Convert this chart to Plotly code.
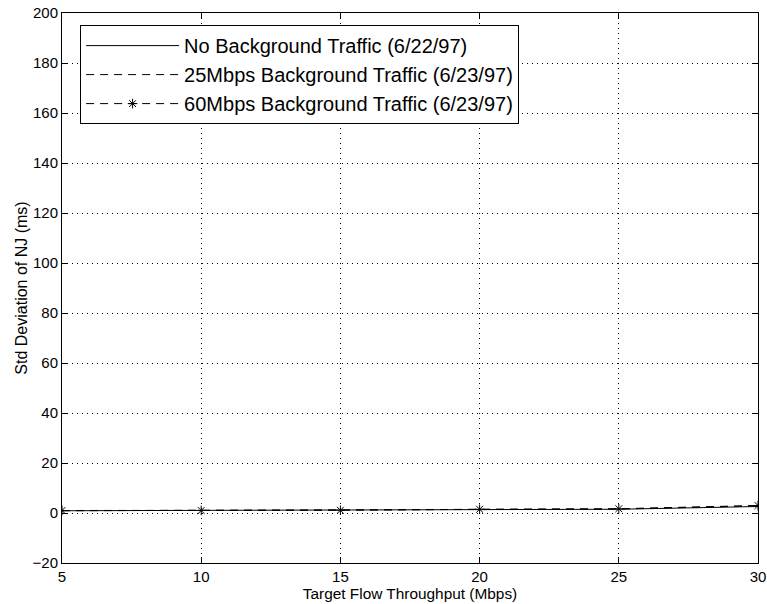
import plotly.graph_objects as go

throughput = [5, 10, 15, 20, 25, 30]
no_bg = [0.9, 1.0, 1.0, 1.3, 1.5, 2.6]
bg_25 = [0.9, 1.0, 1.1, 1.4, 1.6, 2.9]
bg_60 = [1.0, 1.0, 1.1, 1.5, 1.7, 3.0]

names = ["No Background Traffic (6/22/97)",
         "25Mbps Background Traffic (6/23/97)",
         "60Mbps Background Traffic (6/23/97)"]

x_ticks = [5, 10, 15, 20, 25, 30]
y_ticks = [-20, 0, 20, 40, 60, 80, 100, 120, 140, 160, 180, 200]

FONT = "Liberation Sans, Arial, Helvetica, sans-serif"

fig = go.Figure()
fig.add_trace(go.Scatter(x=throughput, y=no_bg, name=names[0], mode="lines",
                         line=dict(color="black", width=1, dash="solid")))
fig.add_trace(go.Scatter(x=throughput, y=bg_25, name=names[1], mode="lines",
                         line=dict(color="black", width=1, dash="8px,6px")))
fig.add_trace(go.Scatter(x=throughput, y=bg_60, name=names[2], mode="lines+markers",
                         line=dict(color="black", width=1, dash="8px,6px"),
                         marker=dict(symbol="asterisk-open", size=8,
                                     line=dict(color="black", width=1))))

axis_common = dict(showline=True, linecolor="black", linewidth=1, mirror="ticks",
                   ticks="inside", ticklen=6, tickcolor="black", automargin=False,
                   showgrid=True, gridcolor="black", gridwidth=1, griddash="1px,4px",
                   zeroline=False, tickfont=dict(family=FONT, size=15, color="black"))

fig.update_xaxes(range=[5, 30], tickvals=x_ticks,
                 title=dict(text="Target Flow Throughput (Mbps)", standoff=0,
                            font=dict(family=FONT, size=15.4, color="black")),
                 **axis_common)
fig.update_yaxes(range=[-20, 200], tickvals=y_ticks,
                 title=dict(text="Std Deviation of NJ (ms)", standoff=0,
                            font=dict(family=FONT, size=16, color="black")),
                 **axis_common)

fig.update_layout(
    width=767, height=604,
    margin=dict(l=62, r=9, t=13, b=41),
    paper_bgcolor="white", plot_bgcolor="white",
    font=dict(family=FONT, color="black"),
    showlegend=True,
    legend=dict(x=0.026, y=0.978, xanchor="left", yanchor="top",
                bgcolor="white", bordercolor="black", borderwidth=1,
                font=dict(family=FONT, size=20, color="black"),
                tracegroupgap=0, itemwidth=93),
)

fig.write_html("out.html",
               config={"displayModeBar": False},
               post_script="document.body.style.margin='0';document.body.style.overflow='hidden';")
